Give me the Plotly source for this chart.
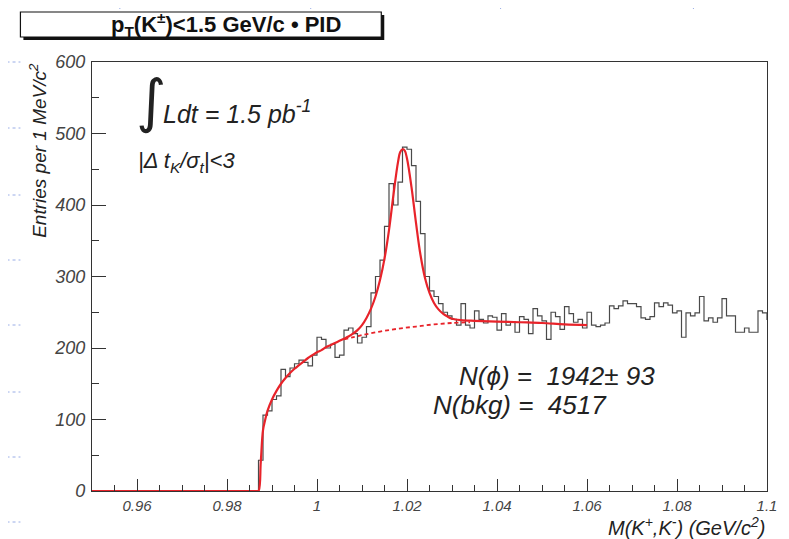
import plotly.graph_objects as go

# ---------------- data ----------------
bin_start = 0.950
bin_width = 0.001
counts = (
    [0] * 37 +
    [43, 106, 112, 128, 133, 170, 160, 172, 178, 183,
     180, 175, 190, 215, 212, 200, 205, 187, 190, 225,
     228, 220, 207, 215, 230, 277, 300, 323, 370, 430,
     400, 432, 481, 478, 455, 405, 360, 300, 280, 272,
     262, 250, 245, 240, 232,
     262, 232, 228, 252, 240, 235, 245, 243, 225, 248,
     232, 237, 222, 244, 240, 220, 255, 245, 238, 212,
     250, 244, 226, 258, 248, 236, 240, 228, 250, 232,
     230, 232,
     235, 259, 255, 259, 266, 262, 262, 258, 242, 240,
     244, 263, 258, 263, 260, 249, 252, 215, 249, 245,
     249, 272, 238, 242, 236, 242, 269, 245, 245, 222,
     222, 228, 222, 222, 252, 249, 240, 211]
)

fit_x = [0.950, 0.9865, 0.9870, 0.9875, 0.9880, 0.9885, 0.989, 0.990, 0.991, 0.992,
         0.993, 0.994, 0.995, 0.996, 0.997, 0.998, 0.999, 1.000, 1.001, 1.002,
         1.003, 1.004, 1.005, 1.006, 1.007, 1.008, 1.009, 1.010, 1.011, 1.012,
         1.013, 1.014, 1.015, 1.016, 1.017, 1.018, 1.0185, 1.019, 1.0195, 1.020,
         1.021, 1.022, 1.023, 1.024, 1.025, 1.026, 1.027, 1.028, 1.029, 1.030,
         1.032, 1.035, 1.040, 1.045, 1.050, 1.055, 1.060]
fit_y = [0, 0, 0, 40, 85, 100, 112, 128, 140, 150,
         158, 165, 171, 176, 181, 186, 190, 194, 197, 201,
         204, 207, 210, 213, 216, 220, 225, 232, 242, 255,
         272, 295, 325, 365, 415, 460, 474, 478, 476, 465,
         425, 375, 330, 298, 277, 263, 254, 248, 244, 241,
         239, 238, 237, 236, 235, 233, 232]

bkg_x = [1.006, 1.010, 1.014, 1.018, 1.022, 1.026, 1.030, 1.034]
bkg_y = [212, 218, 223, 227, 230, 233, 235, 236]

x_tickvals = [0.96, 0.98, 1.00, 1.02, 1.04, 1.06, 1.08, 1.10]
x_ticktext = ["0.96", "0.98", "1", "1.02", "1.04", "1.06", "1.08", "1.1"]
y_tickvals = [0, 100, 200, 300, 400, 500, 600]
y_ticktext = ["0", "100", "200", "300", "400", "500", "600"]

# ---------------- geometry ----------------
PAGE = 8                      # default body margin of the html page
W, H = 789 - PAGE, 539 - PAGE
L, R, T, B = 92, 771, 62, 491  # plot area in reference pixels


def px(x):
    return (x - L) / (R - L)


def py(y):
    return (B - y) / (B - T)


# histogram step line
edges = [bin_start + bin_width * i for i in range(len(counts) + 1)]
step_y = counts + [counts[-1]]

fig = go.Figure()
fig.add_trace(go.Scatter(x=edges, y=step_y, mode="lines", line_shape="hv",
                         line=dict(color="#4a4a4a", width=1.2),
                         hoverinfo="skip", showlegend=False))
fig.add_trace(go.Scatter(x=bkg_x, y=bkg_y, mode="lines", line_shape="spline",
                         line=dict(color="#e8232a", width=1.8, dash="4px,3px"),
                         showlegend=False))
fig.add_trace(go.Scatter(x=fit_x, y=fit_y, mode="lines", line_shape="spline",
                         line=dict(color="#e8232a", width=2.2),
                         showlegend=False))

ital = dict(family="Liberation Sans, Arial, sans-serif", color="#222", style="italic")

annotations = [
    dict(text="∫", x=px(134), y=py(101), xanchor="left", font=dict(family="DejaVu Sans", size=58, color="#222")),
    dict(text="Ldt = 1.5 pb<sup>-1</sup>", x=px(161), y=py(112), xanchor="left", font=dict(size=25, **ital)),
    dict(text="|Δ t<sub>K</sub>/σ<sub>t</sub>|<3", x=px(136), y=py(162), xanchor="left", font=dict(size=22, **ital)),
    dict(text="N(ϕ) =  1942± 93", x=px(459), y=py(376), xanchor="left", font=dict(size=26, **ital)),
    dict(text="N(bkg) =  4517", x=px(433), y=py(405), xanchor="left", font=dict(size=26, **ital)),
    dict(text="Entries per 1 MeV/c<sup>2</sup>", x=px(37), y=py(61), yanchor="top", xanchor="center",
         textangle=-90, font=dict(size=19, **ital)),
    dict(text="M(K<sup>+</sup>,K<sup>-</sup>) (GeV/c<sup>2</sup>)", x=px(771), y=py(526), xanchor="right",
         font=dict(size=20, **ital)),
    dict(text="<b>p<sub>T</sub>(K<sup>±</sup>)<1.5 GeV/c • PID</b>", x=px(227), y=py(25), xanchor="center",
         font=dict(size=22, family="Liberation Sans, Arial, sans-serif", color="#111")),
]
for a in annotations:
    a.setdefault("yanchor", "middle")
    a.update(xref="paper", yref="paper", showarrow=False)

shapes = [
    # title box shadow + box
    dict(type="rect", xref="paper", yref="paper", x0=px(23), x1=px(386), y0=py(40), y1=py(15),
         line=dict(width=0), fillcolor="#111"),
    dict(type="rect", xref="paper", yref="paper", x0=px(20), x1=px(383), y0=py(37), y1=py(12),
         line=dict(color="#111", width=1.2), fillcolor="white"),
]
# faint slide grid (dotted blue)
grid_col = "#98ace6"
for gx in [120, 312, 503, 697]:
    shapes.append(dict(type="line", xref="paper", yref="paper", x0=px(gx), x1=px(gx),
                       y0=py(0), y1=py(11), line=dict(color=grid_col, width=1, dash="dot")))
shapes.append(dict(type="line", xref="paper", yref="paper", x0=px(0), x1=px(789),
                   y0=py(4), y1=py(4), line=dict(color=grid_col, width=1, dash="dot")))
for gy in [62, 128, 195, 260, 325, 392, 457, 522]:
    shapes.append(dict(type="line", xref="paper", yref="paper", x0=px(0), x1=px(20),
                       y0=py(gy), y1=py(gy), line=dict(color=grid_col, width=1, dash="dot")))

xtickfont = dict(size=15, **ital)
xtickfont["color"] = "#444"
ytickfont = dict(size=18, **ital)
ytickfont["color"] = "#444"

fig.update_layout(
    width=W, height=H,
    margin=dict(l=L - PAGE, r=789 - R, t=T - PAGE, b=539 - B),
    paper_bgcolor="white", plot_bgcolor="white",
    annotations=annotations, shapes=shapes,
    xaxis=dict(range=[0.95, 1.1], tickvals=x_tickvals, ticktext=x_ticktext,
               ticks="inside", ticklen=12, tickwidth=1, tickcolor="#333",
               minor=dict(ticks="inside", ticklen=6, dtick=0.005, tick0=0.95, tickcolor="#333"),
               showgrid=False, zeroline=False, showline=True, linecolor="#333", linewidth=1.2,
               mirror=True, tickfont=xtickfont, ticklabelstandoff=1),
    yaxis=dict(range=[0, 600], tickvals=y_tickvals, ticktext=y_ticktext,
               ticks="inside", ticklen=14, tickwidth=1, tickcolor="#333",
               minor=dict(ticks="inside", ticklen=7, dtick=50, tick0=0, tickcolor="#333"),
               showgrid=False, zeroline=False, showline=True, linecolor="#333", linewidth=1.2,
               mirror=True, tickfont=ytickfont, ticklabelstandoff=2),
)

fig.write_html("out.html")
